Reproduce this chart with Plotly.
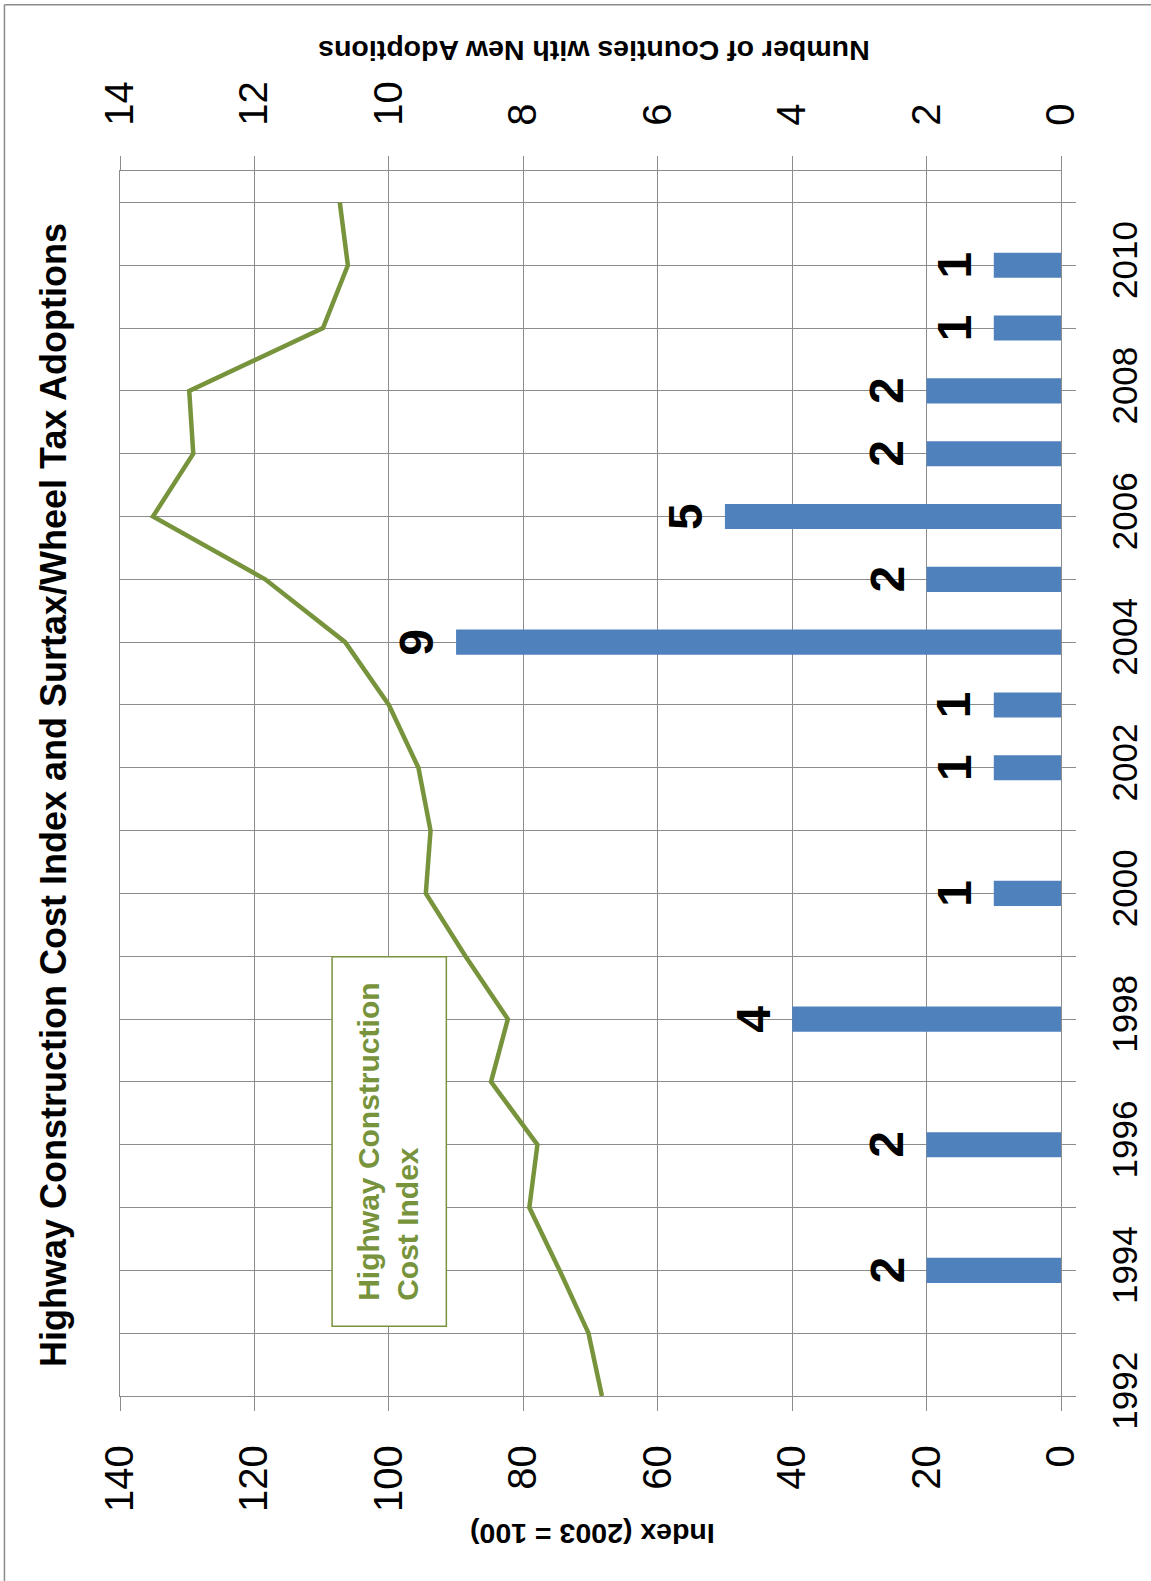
import plotly.graph_objects as go

# ---- data ----
years = list(range(1992, 2012))
hcci = [68.3, 70.3, 74.6, 79.1, 77.9, 84.8, 82.3, 88.6, 94.5, 93.8,
        95.6, 100.0, 106.5, 118.4, 135.1, 129.1, 129.7, 109.8, 106.1, 107.3]
adopt_years = [1994, 1996, 1998, 2000, 2002, 2003, 2004, 2005, 2006, 2007, 2008, 2009, 2010]
adoptions = [2, 2, 4, 1, 1, 1, 9, 2, 5, 2, 2, 1, 1]
index_ticks = [0, 20, 40, 60, 80, 100, 120, 140]
count_ticks = [0, 2, 4, 6, 8, 10, 12, 14]
year_labels = [str(y) if y % 2 == 0 else "" for y in years]

title = "Highway Construction Cost Index and Surtax/Wheel Tax Adoptions"
legend_name = "Highway Construction<br>Cost Index"
index_title = "Index (2003 = 100)"
count_title = "Number of Counties with New Adoptions"

GREEN = "#77933C"
BLUE = "#4F81BD"
GRID = "#8C8C8C"
FONT = "Liberation Sans, Arial, sans-serif"

fig = go.Figure()
fig.add_trace(go.Scatter(x=hcci, y=years, mode="lines", xaxis="x", yaxis="y",
                         line=dict(color=GREEN, width=4.5), showlegend=False,
                         name="Highway Construction Cost Index"))
fig.add_trace(go.Bar(x=adoptions, y=adopt_years, orientation="h", xaxis="x2", yaxis="y",
                     width=0.4, marker=dict(color=BLUE, line=dict(width=0)),
                     showlegend=False, name="Adoptions"))

annotations = []
for yr, n in zip(adopt_years, adoptions):
    annotations.append(dict(x=n, y=yr, xref="x2", yref="y", text=str(n), showarrow=False,
                            textangle=-90, xanchor="right", yanchor="middle", xshift=-11,
                            font=dict(family=FONT, size=48, color="black", weight="bold")))

annotations += [
    dict(xref="paper", yref="paper", x=-0.0712, y=0.4906, text="<b>" + title + "</b>",
         showarrow=False, textangle=-90, xanchor="center", yanchor="middle",
         font=dict(family=FONT, size=36, color="black")),
    dict(xref="paper", yref="paper", x=0.503, y=1.0974, text="<b>" + count_title + "</b>",
         showarrow=False, textangle=180, xanchor="center", yanchor="middle",
         font=dict(family=FONT, size=28.5, color="black")),
    dict(xref="paper", yref="paper", x=0.502, y=-0.1121, text="<b>" + index_title + "</b>",
         showarrow=False, textangle=180, xanchor="center", yanchor="middle",
         font=dict(family=FONT, size=28.5, color="black")),
    dict(xref="paper", yref="paper", x=0.2840, y=0.2077, text="<b>" + legend_name + "</b>",
         showarrow=False, textangle=-90, xanchor="center", yanchor="middle", align="left",
         font=dict(family=FONT, size=30, color=GREEN)),
]

shapes = [
    # legend box
    dict(type="rect", xref="paper", yref="paper", x0=0.2254, x1=0.3468, y0=0.0569, y1=0.3585,
         line=dict(color=GREEN, width=1.5), fillcolor="white", layer="above"),
    # chart area border (left and top)
    dict(type="line", xref="paper", yref="paper", x0=-0.1228, x1=-0.1228, y0=-0.16, y1=1.1358,
         line=dict(color="#8C8C8C", width=1.5)),
    dict(type="line", xref="paper", yref="paper", x0=-0.1228, x1=1.12, y0=1.1358, y1=1.1358,
         line=dict(color="#8C8C8C", width=1.5)),
]

fig.update_layout(
    width=1151, height=1581,
    margin=dict(l=120, r=90, t=171, b=185, pad=0, autoexpand=False),
    paper_bgcolor="white", plot_bgcolor="white",
    font=dict(family=FONT, color="black"),
    xaxis=dict(range=[140, 0], tickvals=index_ticks, tickangle=-90, ticks="outside",
               ticklen=14, tickcolor=GRID, tickwidth=1.3, showgrid=True, gridcolor=GRID,
               gridwidth=1.3, showline=True, mirror=True, linecolor=GRID, linewidth=1.3,
               zeroline=False, automargin=False,
               tickfont=dict(size=40, family=FONT), ticklabelstandoff=18),
    xaxis2=dict(range=[14, 0], overlaying="x", side="top", tickvals=count_ticks, tickangle=-90,
                ticks="outside", ticklen=14, tickcolor=GRID, tickwidth=1.3, showgrid=False,
                showline=True, linecolor=GRID, linewidth=1.3, zeroline=False, automargin=False,
                tickfont=dict(size=40, family=FONT), ticklabelstandoff=22),
    yaxis=dict(range=[1992, 2011.5], side="right", tickvals=years, ticktext=year_labels,
               tickangle=-90, ticks="outside", ticklen=14, tickcolor=GRID, tickwidth=1.3,
               showgrid=True, gridcolor=GRID, gridwidth=1.3, showline=True, mirror=True,
               linecolor=GRID, linewidth=1.3, zeroline=False, automargin=False,
               tickfont=dict(size=35, family=FONT), ticklabelstandoff=19),
    annotations=annotations,
    shapes=shapes,
)

fig.write_html("out.html")
